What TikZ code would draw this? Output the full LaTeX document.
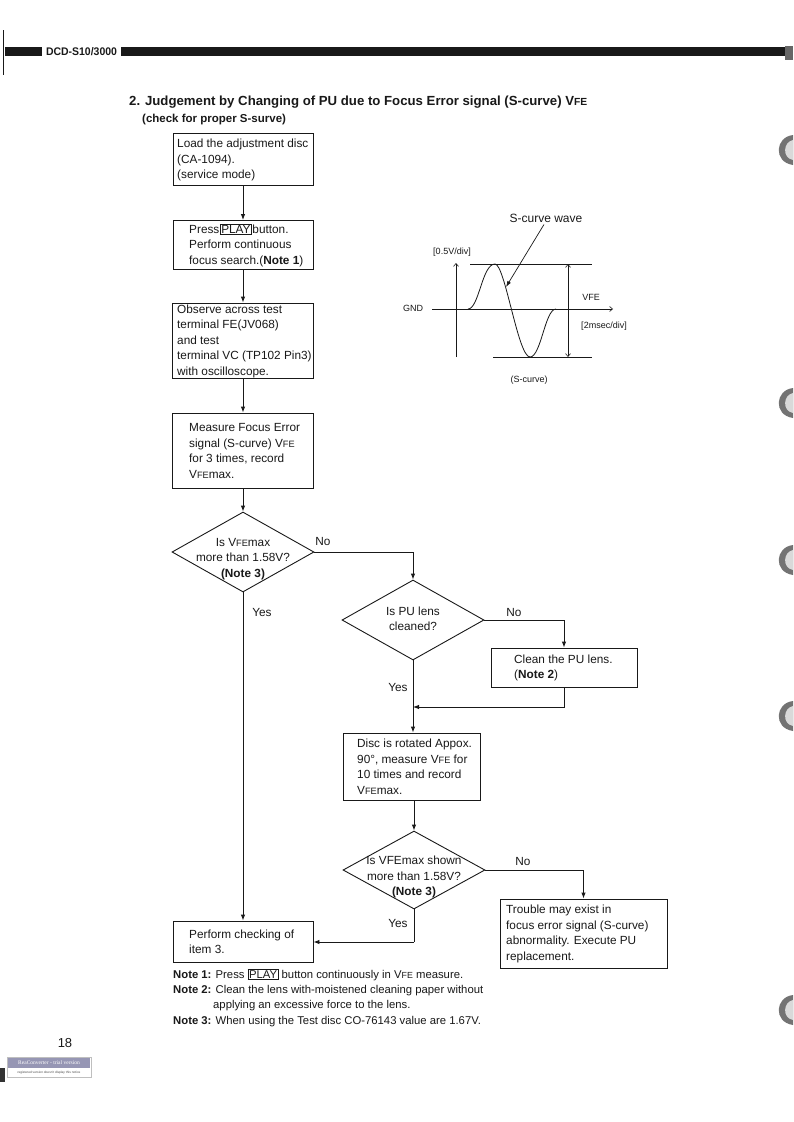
\documentclass[tikz,border=0pt]{standalone}
\usepackage{fontspec}
\setmainfont{Liberation Sans}
\newfontfamily\serifx{Liberation Serif}
\usetikzlibrary{shapes.geometric,arrows.meta,calc}
\newcommand\Vfe{V\scalebox{0.78}{FE}}
\newcommand\playkey{{\setlength\fboxsep{0.8pt}\setlength\fboxrule{0.6pt}\fbox{PLAY}}}
\definecolor{ink}{gray}{0.1}
\definecolor{rea}{RGB}{150,150,180}
\begin{document}
\begin{tikzpicture}[x=1pt,y=-1pt,
  box/.style={draw=ink, line width=0.9pt, rectangle, inner sep=0pt},
  dia/.style={draw=ink, line width=0.9pt, diamond, inner sep=0pt, minimum width=142pt, minimum height=80pt},
  txt/.style={font=\fontsize{11.8}{15.5}\selectfont, align=left, inner sep=0pt, text=ink},
  ctxt/.style={txt, align=center},
  lbl/.style={font=\fontsize{11.8}{14}\selectfont, inner sep=0pt, text=ink},
  small/.style={font=\fontsize{9}{11}\selectfont, inner sep=0pt, text=ink},
  note/.style={font=\fontsize{11.3}{15.5}\selectfont, inner sep=0pt, anchor=west, text=ink},
  conn/.style={draw=ink, line width=0.9pt},
  arr/.style={conn, -{Latex[length=6pt,width=4.5pt]}},
  fig/.style={draw=ink, line width=0.6pt},
  barb/.style={fig, -{Straight Barb[length=3pt,width=5pt]}},
]
\useasboundingbox (0,0) rectangle (793,1122);
\fill[white] (0,0) rectangle (793,1122);

% ---------- header ----------
\fill[ink] (5,47) rectangle (42,56);
\node[inner sep=0pt, text=ink] (hdr) at (81.5,51.5) {\resizebox{71pt}{8pt}{\bfseries DCD-S10/3000}};
\fill[ink] (121,47) rectangle (785,56);
\fill[black!60] (785,46) rectangle (793,60);
\draw[ink, line width=0.8pt] (3,30) -- (3,75);

% ---------- scan marks on right edge ----------
\foreach \c in {150,403,560,716,1010} {
  \fill[black!55] (793,\c-15) .. controls (775,\c-13) and (773,\c+12) .. (793,\c+15) -- cycle;
  \fill[black!15] (793,\c-10) .. controls (783,\c-8) and (782,\c+8) .. (793,\c+10) -- cycle;
}

% ---------- title ----------
\node[anchor=west, inner sep=0pt, font=\fontsize{13.2}{15}\selectfont\bfseries, text=ink] (title) at (129,102)
  {2. Judgement by Changing of PU due to Focus Error signal (S-curve) \Vfe};
\node[anchor=west, inner sep=0pt, font=\fontsize{11.5}{14}\selectfont\bfseries, text=ink] (subtitle) at (142,120)
  {(check for proper S-surve)};

% ---------- left column ----------
\node[box, minimum width=140pt, minimum height=52pt] (b1) at (243,159) {};
\node[txt, anchor=west] (b1t) at (177,160) {Load the adjustment disc\\(CA-1094).\\(service mode)};

\node[box, minimum width=140pt, minimum height=49pt] (b2) at (243,245) {};
\node[txt, anchor=west] (b2t) at (189,245) {Press\kern0.5pt\playkey\kern0.5pt button.\\Perform continuous\\focus search.(\textbf{Note 1})};

\node[box, minimum width=141pt, minimum height=75pt] (b3) at (243,340.5) {};
\node[txt, anchor=west] (b3t) at (177,341) {Observe across test\\terminal FE(JV068)\\and test\\terminal VC (TP102 Pin3)\\with oscilloscope.};

\node[box, minimum width=141pt, minimum height=75pt] (b4) at (243,450.5) {};
\node[txt, anchor=west] (b4t) at (189,451) {Measure Focus Error\\signal (S-curve) \Vfe\\for 3 times, record\\\Vfe max.};

\node[dia] (d1) at (243,552) {};
\node[ctxt] (d1t) at (243,559) {Is \Vfe max\\more than 1.58V?\\\textbf{(Note 3)}};
\node[lbl] (d1no) at (323,541) {No};
\node[lbl] (d1yes) at (262,612) {Yes};

% ---------- middle column ----------
\node[dia] (d2) at (413,620) {};
\node[ctxt] (d2t) at (413,619) {Is PU lens\\cleaned?};
\node[lbl] (d2no) at (514,612) {No};
\node[lbl] (d2yes) at (398,687) {Yes};

\node[box, minimum width=146pt, minimum height=39pt] (cl) at (564,667.5) {};
\node[txt, anchor=west] (clt) at (514,668) {Clean the PU lens.\\(\textbf{Note 2})};
\coordinate (j1) at (413,707);

\node[box, minimum width=137pt, minimum height=67pt] (disc) at (411.5,766.5) {};
\node[txt, anchor=west] (disct) at (357,767) {Disc is rotated Appox.\\90°, measure \Vfe\ for\\10 times and record\\\Vfe max.};

\node[dia, minimum height=78pt] (d3) at (414,870) {};
\node[ctxt] (d3t) at (414,877) {Is VFEmax shown\\more than 1.58V?\\\textbf{(Note 3)}};
\node[lbl] (d3no) at (523,861) {No};
\node[lbl] (d3yes) at (398,923) {Yes};
\coordinate (j2) at (414,942);

\node[box, minimum width=167pt, minimum height=69pt] (tr) at (583.5,933.5) {};
\node[txt, anchor=west] (trt) at (506,934) {Trouble may exist in\\focus error signal (S-curve)\\abnormality. Execute PU\\replacement.};

\node[box, minimum width=140pt, minimum height=41pt] (pf) at (243,941.5) {};
\node[txt, anchor=west] (pft) at (189,942) {Perform checking of\\item 3.};

% ---------- connectors ----------
\draw[arr] (b1) -- (b2);
\draw[arr] (b2) -- (b3);
\draw[arr] (b3) -- (b4);
\draw[arr] (b4) -- (d1);
\draw[arr] (d1.east) -| (d2.north);
\draw[arr] (d1.south) -- (pf.north);
\draw[arr] (d2.east) -| (cl.north);
\draw[conn] (d2.south) -- (j1);
\draw[arr] (j1) -- (j1 |- disc.north);
\draw[arr] (cl.south) |- (j1);
\draw[arr] (disc.south -| d3.north) -- (d3.north);
\draw[arr] (d3.east) -| (tr.north);
\draw[conn] (d3.south) -- (j2);
\draw[arr] (j2) -- (j2 -| pf.east);

% ---------- S-curve figure ----------
\node[font=\fontsize{12}{14}\selectfont, inner sep=0pt, text=ink] (sw) at (546,218) {S-curve wave};
\coordinate (tip) at (506,287);
\draw[draw=ink, line width=0.7pt, -{Latex[length=6pt,width=4pt]}] (sw.south) ++(-2,2) -- (tip);
\node[small] (vdiv) at (452,252) {[0.5V/div]};
\node[small] (gnd) at (413,308) {GND};
\draw[barb] (456,357) -- (456,263);
\draw[barb] (432,309) -- (613,309);
\draw[fig] (470,264) -- (592,264);
\draw[fig] (493,357) -- (592,357);
\draw[fig, {Straight Barb[length=3pt,width=5pt]}-{Straight Barb[length=3pt,width=5pt]}] (568,264) -- (568,357);
\node[small] (vfe) at (591,297) {VFE};
\node[small] (msdiv) at (604,326) {[2msec/div]};
\node[small] (scv) at (529,380) {(S-curve)};
\draw[draw=ink, line width=0.8pt] (468,309) .. controls (479,309) and (482,264) .. (495,264)
  .. controls (505,264) and (518,357) .. (530,357)
  .. controls (541,357) and (545,309) .. (556,309);

% ---------- notes ----------
\node[note] (n1) at (173,975) {\textbf{Note 1:} Press \playkey{} button continuously in \Vfe\ measure.};
\node[note] (n2) at (173,990.5) {\textbf{Note 2:} Clean the lens with-moistened cleaning paper without};
\node[note] (n2b) at (213,1006) {applying an excessive force to the lens.};
\node[note] (n3) at (173,1021.5) {\textbf{Note 3:} When using the Test disc CO-76143 value are 1.67V.};

% ---------- page number / watermark ----------
\node[inner sep=0pt, font=\fontsize{13}{15}\selectfont, text=ink] (pg) at (65,1043) {18};
\fill[black!80] (0,1068) rectangle (5,1082);
\node[draw=black!25, fill=white, minimum width=84pt, minimum height=20pt, inner sep=0pt] (rc) at (49,1067) {};
\fill[rea] ($(rc.north west)+(1,1)$) rectangle ($(rc.east)+(-1,1)$);
\node[inner sep=0pt, text=white, font=\serifx\fontsize{5.5}{6}\selectfont] (rct) at (49,1062.5) {ReaConverter - trial version};
\node[inner sep=0pt, text=black!70, font=\fontsize{3.2}{4}\selectfont] (rcs) at (49,1072.5) {registered version doesn't display this notice};
\end{tikzpicture}
\end{document}
